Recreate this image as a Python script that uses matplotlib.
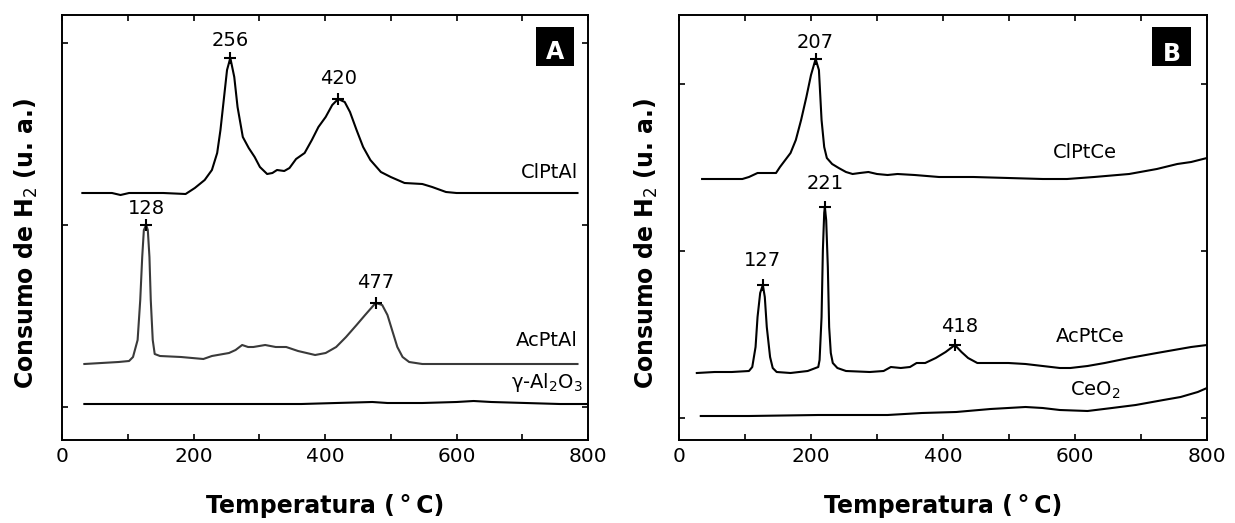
import matplotlib.pyplot as plt
from matplotlib.patches import Rectangle
from matplotlib.ticker import MultipleLocator

# TPR profiles, temperature (C) vs H2 consumption (a.u., curves stacked)

# ---- A: alumina series ----
clptal_T = [31, 49, 76, 89, 102, 128, 154, 188, 202, 217, 228, 236, 241, 246, 251,
            256, 262, 267, 275, 284, 293, 301, 312, 320, 327, 338, 346, 356, 369,
            380, 390, 401, 411, 420, 430, 438, 448, 458, 469, 485, 500, 521, 548,
            563, 584, 600, 626, 679, 731, 784]
clptal_s = [247, 247, 247, 245, 247, 247, 247, 246, 252, 260, 270, 287, 310, 340, 370,
            382, 363, 333, 303, 292, 283, 273, 266, 267, 270, 269, 272, 281, 287,
            300, 313, 323, 335, 341, 338, 328, 310, 293, 280, 268, 263, 257, 256,
            253, 248, 247, 247, 247, 247, 247]

acptal_T = [34, 60, 86, 102, 108, 115, 119, 122, 124.5, 128, 130.5, 133, 135, 138,
            141, 149, 181, 215, 228, 254, 264, 274, 283, 291, 309, 325, 341, 359,
            385, 401, 417, 432, 448, 461, 477, 487, 495, 502, 510, 518, 528, 548,
            600, 679, 731, 784]
acptal_s = [76, 77, 78, 79, 83, 100, 140, 183, 210, 215, 210, 183, 140, 100,
            86, 84, 83, 81, 84, 87, 90, 95, 93, 93, 95, 93, 93, 89,
            85, 87, 93, 103, 115, 125, 137, 135, 125, 110, 93, 83, 78, 76,
            76, 76, 76, 76]

al2o3_T = [34, 154, 259, 364, 417, 472, 495, 548, 600, 626, 653, 705, 757, 800]
al2o3_s = [36, 36, 36, 36, 37, 38, 37, 37, 38, 39, 38, 37, 36, 36]

peaks_A_T = [256, 420, 128, 477]
peaks_A_s = [382, 341, 215, 137]
peaks_A_lbl_s = [400, 362, 232, 157]

# ---- B: ceria series ----
clptce_T = [35, 64, 96, 106, 119, 132, 147, 153, 161, 169, 177, 185, 193, 200, 207,
            212, 216, 220, 224, 232, 242, 253, 263, 274, 287, 300, 316, 331, 357,
            394, 446, 499, 551, 588, 629, 682, 724, 755, 776, 800]
clptce_s = [261, 261, 261, 263, 267, 267, 267, 273, 280, 287, 300, 320, 343, 365, 381,
            370, 320, 293, 282, 276, 272, 268, 266, 267, 268, 266, 265, 266, 265,
            263, 263, 262, 261, 261, 263, 266, 271, 276, 278, 282]

acptce_T = [27, 54, 80, 106, 111, 116, 119, 123, 127, 130, 133, 138, 142, 148, 169,
            195, 211, 213, 216, 218, 220, 221, 223, 225.5, 227.5, 230, 233, 240,
            253, 289, 310, 321, 336, 350, 360, 373, 389, 404, 418, 428, 438, 452,
            472, 499, 525, 551, 577, 593, 619, 645, 682, 724, 750, 776, 800]
acptce_s = [67, 68, 68, 69, 73, 93, 123, 147, 155, 143, 113, 83, 72, 68, 67,
            69, 73, 80, 123, 190, 227, 233, 220, 173, 113, 87, 77, 72,
            69, 68, 69, 73, 72, 73, 77, 77, 82, 88, 95, 88, 82, 77,
            77, 77, 76, 74, 72, 72, 74, 77, 82, 87, 90, 93, 95]

ceo2_T = [33, 106, 211, 316, 368, 420, 472, 525, 551, 577, 619, 656, 692, 734, 760,
          786, 800]
ceo2_s = [24, 24, 25, 25, 27, 28, 31, 33, 32, 30, 29, 32, 35, 40, 43, 48, 52]

peaks_B_T = [207, 221, 127, 418]
peaks_B_s = [381, 233, 155, 95]
peaks_B_lbl_T = [207, 221, 127, 425]
peaks_B_lbl_s = [398, 257, 180, 113]

fs = 14

fig = plt.figure(figsize=(12.35, 5.23), dpi=100)
axA = fig.add_axes([62/1235, 83/523, 526/1235, 425/523])
axB = fig.add_axes([679/1235, 83/523, 528/1235, 425/523])


def style(ax, yticks, ylab_x):
    ax.set_xlim(0, 800)
    ax.set_ylim(0, 425)
    ax.xaxis.set_major_locator(MultipleLocator(200))
    ax.xaxis.set_minor_locator(MultipleLocator(100))
    ax.set_yticks(yticks)
    ax.set_yticklabels([])
    ax.tick_params(which='both', direction='in', top=True, right=True,
                   length=4, width=1.2, labelsize=14.5, pad=5)
    for sp in ax.spines.values():
        sp.set_linewidth(1.4)
    ax.set_xlabel('Temperatura (\u2009°\u2009C)', fontsize=17, fontweight='bold')
    ax.set_ylabel('Consumo de H$_2$ (u. a.)', fontsize=17, fontweight='bold')
    ax.xaxis.set_label_coords(0.5, -0.128)
    ax.yaxis.set_label_coords(ylab_x, 0.462)


def tag(ax, letter, x0, x1, y0, y1, ty):
    ax.add_patch(Rectangle((x0, y0), x1 - x0, y1 - y0, transform=ax.transAxes,
                           facecolor='black', edgecolor='none', zorder=5))
    ax.text((x0 + x1) / 2, ty, letter, transform=ax.transAxes, color='white',
            fontsize=17, fontweight='bold', ha='center', va='center', zorder=6)


# panel A
axA.plot(clptal_T, clptal_s, color='black', lw=1.5)
axA.plot(acptal_T, acptal_s, color='#3a3a3a', lw=1.5)
axA.plot(al2o3_T, al2o3_s, color='black', lw=1.5)
axA.plot(peaks_A_T, peaks_A_s, '+', color='black', ms=8, mew=1.5)
for t, s in zip(peaks_A_T, peaks_A_lbl_s):
    axA.text(t, s, str(t), fontsize=fs, ha='center', va='center')
axA.text(785, 268, 'ClPtAl', fontsize=fs, ha='right', va='center')
axA.text(785, 100, 'AcPtAl', fontsize=fs, ha='right', va='center')
axA.text(792, 58, 'γ-Al$_2$O$_3$', fontsize=fs, ha='right', va='center')
style(axA, [33, 215, 397], -0.042)
tag(axA, 'A', 0.901, 0.973, 0.880, 0.972, 0.912)

# panel B
axB.plot(clptce_T, clptce_s, color='black', lw=1.5)
axB.plot(acptce_T, acptce_s, color='black', lw=1.5)
axB.plot(ceo2_T, ceo2_s, color='black', lw=1.5)
axB.plot(peaks_B_T, peaks_B_s, '+', color='black', ms=8, mew=1.5)
for t, lt, s in zip(peaks_B_T, peaks_B_lbl_T, peaks_B_lbl_s):
    axB.text(lt, s, str(t), fontsize=fs, ha='center', va='center')
axB.text(615, 288, 'ClPtCe', fontsize=fs, ha='center', va='center')
axB.text(623, 103, 'AcPtCe', fontsize=fs, ha='center', va='center')
axB.text(630, 50, 'CeO$_2$', fontsize=fs, ha='center', va='center')
style(axB, [22, 189, 356], -0.036)
tag(axB, 'B', 0.896, 0.970, 0.880, 0.972, 0.908)

fig.savefig('out.png', dpi=100)
